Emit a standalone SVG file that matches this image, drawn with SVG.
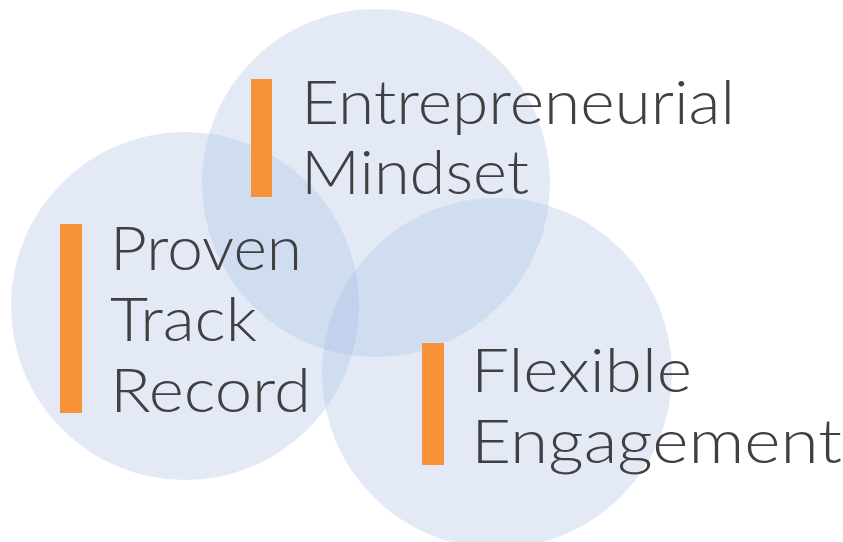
<svg xmlns="http://www.w3.org/2000/svg" width="843" height="542" viewBox="0 0 843 542">
  <style>
    .bubble { fill: #a7bde3; fill-opacity: 0.32; }
    .bar { fill: #f79239; }
    .label { font-family: "Lato", "Liberation Sans", sans-serif; font-weight: 300; font-size: 62px; fill: #404042; }
  </style>
  <rect width="843" height="542" fill="#ffffff"/>

  <!-- overlapping circles -->
  <g id="circles">
    <circle class="bubble" cx="376" cy="183" r="174"/>
    <circle class="bubble" cx="185" cy="306" r="174"/>
    <circle class="bubble" cx="497" cy="373" r="175"/>
  </g>

  <g id="entrepreneurial-mindset">
    <rect class="bar" x="251" y="79" width="21" height="118"/>
    <text class="label" x="301" y="124" textLength="434" lengthAdjust="spacingAndGlyphs">Entrepreneurial</text>
    <text class="label" x="301" y="194" textLength="228" lengthAdjust="spacingAndGlyphs">Mindset</text>
  </g>

  <g id="proven-track-record">
    <rect class="bar" x="60" y="224" width="22" height="189"/>
    <text class="label" x="110" y="270" textLength="192" lengthAdjust="spacingAndGlyphs">Proven</text>
    <text class="label" x="110" y="341" textLength="147" lengthAdjust="spacingAndGlyphs">Track</text>
    <text class="label" x="110" y="412" textLength="201" lengthAdjust="spacingAndGlyphs">Record</text>
  </g>

  <g id="flexible-engagement">
    <rect class="bar" x="422" y="343" width="22" height="122"/>
    <text class="label" x="471" y="392" textLength="221" lengthAdjust="spacingAndGlyphs">Flexible</text>
    <text class="label" x="471" y="463" textLength="371" lengthAdjust="spacingAndGlyphs">Engagement</text>
  </g>

  <g id="connectors"/>
</svg>
